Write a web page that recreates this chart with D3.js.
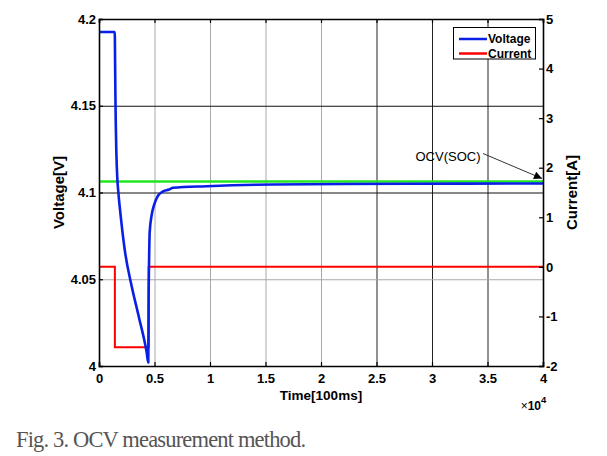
<!DOCTYPE html>
<html>
<head>
<meta charset="utf-8">
<script src="https://cdn.jsdelivr.net/npm/d3@7"></script>
<style>
  html, body { margin: 0; padding: 0; background: #fff; }
  svg { display: block; }
  text { font-family: "Liberation Sans", Arial, sans-serif; }
</style>
</head>
<body>
<svg id="chart" width="607" height="456"></svg>
<script>
// ---------- data ----------
const timeV = [0, 1420, 1450, 1480, 1510, 1560, 1650, 1740, 1980, 2340, 2910, 3600, 4290, 4440,
               4470, 4505, 4565, 4745, 4955, 5255, 5706, 6306, 6667, 9700, 15676, 27748, 40000];
const voltage = [4.1925, 4.1925, 4.175, 4.155, 4.14, 4.124, 4.108, 4.1004, 4.085, 4.066, 4.047, 4.028, 4.008, 4.002,
                 4.04, 4.058, 4.077, 4.087, 4.0927, 4.0975, 4.1004, 4.1017, 4.1027, 4.1036, 4.1046, 4.105, 4.1052];
const timeI = [0, 1430, 1430, 4480, 4480, 40000];
const current = [0, 0, -1.62, -1.62, 0, 0];
const ocvTime = [0, 40000];
const ocvVoltage = [4.1063, 4.1063];

const xTicks = [0, 5000, 10000, 15000, 20000, 25000, 30000, 35000, 40000];
const xTickLabels = ["0", "0.5", "1", "1.5", "2", "2.5", "3", "3.5", "4"];
const vTicks = [4, 4.05, 4.1, 4.15, 4.2];
const vTickLabels = ["4", "4.05", "4.1", "4.15", "4.2"];
const iTicks = [-2, -1, 0, 1, 2, 3, 4, 5];
const iTickLabels = ["-2", "-1", "0", "1", "2", "3", "4", "5"];
const seriesNames = ["Voltage", "Current"];

// ---------- layout ----------
const L = 99, R = 543, T = 19, B = 366;
const svg = d3.select("#chart");
const x = d3.scaleLinear().domain([0, 40000]).range([L, R]);
const yV = d3.scaleLinear().domain([4, 4.2]).range([B, T]);
const yI = d3.scaleLinear().domain([-2, 5]).range([B, T]);

// ---------- grid ----------
const gridX = svg.append("g").attr("transform", `translate(0,${B})`)
  .call(d3.axisBottom(x).tickValues(xTicks.slice(1, -1)).tickSize(-(B - T)).tickFormat(""));
gridX.select(".domain").remove();
gridX.selectAll("line").attr("stroke", d => d >= 25000 ? "#222" : "#a8a8a8").attr("stroke-width", 1);

const gridY = svg.append("g").attr("transform", `translate(${L},0)`)
  .call(d3.axisLeft(yV).tickValues(vTicks.slice(1, -1)).tickSize(-(R - L)).tickFormat(""));
gridY.select(".domain").remove();
gridY.selectAll("line").attr("stroke", d => d >= 4.09 ? "#111" : "#a8a8a8").attr("stroke-width", 1);

// ---------- lines ----------
const lineV = d3.line().x((d, i) => x(timeV[i])).y(d => yV(d)).curve(d3.curveMonotoneX);
const lineI = d3.line().x((d, i) => x(timeI[i])).y(d => yI(d));
const lineO = d3.line().x((d, i) => x(ocvTime[i])).y(d => yV(d));

svg.append("path").datum(current).attr("d", lineI)
  .attr("fill", "none").attr("stroke", "#ff0000").attr("stroke-width", 2);
svg.append("path").datum(ocvVoltage).attr("d", lineO)
  .attr("fill", "none").attr("stroke", "#22e622").attr("stroke-width", 2.5);
svg.append("path").datum(voltage).attr("d", lineV)
  .attr("fill", "none").attr("stroke", "#0a1fe6").attr("stroke-width", 2.6)
  .attr("stroke-linejoin", "round");

// ---------- axes ----------
const fontTick = "bold 13px 'Liberation Sans', Arial, sans-serif";
const axB = svg.append("g").attr("transform", `translate(0,${B})`)
  .call(d3.axisBottom(x).tickValues(xTicks).tickSize(-4).tickPadding(8)
    .tickFormat((d, i) => xTickLabels[i]));
const axT = svg.append("g").attr("transform", `translate(0,${T})`)
  .call(d3.axisTop(x).tickValues(xTicks).tickSize(-4).tickFormat(""));
const axL = svg.append("g").attr("transform", `translate(${L},0)`)
  .call(d3.axisLeft(yV).tickValues(vTicks).tickSize(-4).tickPadding(3)
    .tickFormat((d, i) => vTickLabels[i]));
const axR = svg.append("g").attr("transform", `translate(${R},0)`)
  .call(d3.axisRight(yI).tickValues(iTicks).tickSize(-4).tickPadding(3)
    .tickFormat((d, i) => iTickLabels[i]));
[axB, axT, axL, axR].forEach(a => {
  a.select(".domain").attr("stroke", "#000").attr("stroke-width", 1.6);
  a.selectAll(".tick line").attr("stroke", "#000").attr("stroke-width", 1.2);
  a.selectAll("text").style("font", fontTick).attr("fill", "#000");
});
axB.selectAll("text").attr("dy", "0.71em");

// axis titles
svg.append("text").attr("x", (L + R) / 2).attr("y", 400).attr("text-anchor", "middle")
  .style("font", "bold 13.5px 'Liberation Sans', Arial, sans-serif").text("Time[100ms]");
svg.append("text").attr("transform", `translate(64,${(T + B) / 2}) rotate(-90)`)
  .attr("text-anchor", "middle")
  .style("font", "bold 15px 'Liberation Sans', Arial, sans-serif").text("Voltage[V]");
svg.append("text").attr("transform", `translate(577,${(T + B) / 2}) rotate(-90)`)
  .attr("text-anchor", "middle")
  .style("font", "bold 15px 'Liberation Sans', Arial, sans-serif").text("Current[A]");

// x10^4 exponent
const ex = svg.append("text").attr("x", 541).attr("y", 410).attr("text-anchor", "end")
  .style("font", "bold 12px 'Liberation Sans', Arial, sans-serif");
ex.append("tspan").style("font-weight", "normal").text("\u00d7");
ex.append("tspan").text("10");
svg.append("text").attr("x", 541).attr("y", 403)
  .style("font", "bold 9.5px 'Liberation Sans', Arial, sans-serif").text("4");

// ---------- legend ----------
const lg = svg.append("g");
lg.append("rect").attr("x", 453.5).attr("y", 27.5).attr("width", 82).attr("height", 31.5)
  .attr("fill", "#fff").attr("stroke", "#000").attr("stroke-width", 1);
const legColors = ["#0a1fe6", "#ff0000"];
seriesNames.forEach((n, i) => {
  const yy = 39 + i * 14.5;
  lg.append("line").attr("x1", 459).attr("x2", 487).attr("y1", yy).attr("y2", yy)
    .attr("stroke", legColors[i]).attr("stroke-width", 2.5);
  lg.append("text").attr("x", 488).attr("y", yy + 4)
    .style("font", "bold 12px 'Liberation Sans', Arial, sans-serif").text(n);
});

// ---------- annotation ----------
const defs = svg.append("defs");
defs.append("marker").attr("id", "arr").attr("viewBox", "0 0 10 10")
  .attr("refX", 10).attr("refY", 5).attr("markerWidth", 10).attr("markerHeight", 8)
  .attr("markerUnits", "userSpaceOnUse").attr("orient", "auto")
  .append("path").attr("d", "M0,0 L10,5 L0,10 Z").attr("fill", "#000");
svg.append("line").attr("x1", 483).attr("y1", 153.5).attr("x2", 542).attr("y2", 178.5)
  .attr("stroke", "#333").attr("stroke-width", 1).attr("marker-end", "url(#arr)");
svg.append("text").attr("x", 448).attr("y", 160.5).attr("text-anchor", "middle")
  .style("font", "13px 'Liberation Sans', Arial, sans-serif").text("OCV(SOC)");

// ---------- caption ----------
svg.append("text").attr("x", 16).attr("y", 447).attr("textLength", 290)
  .attr("lengthAdjust", "spacing").attr("fill", "#555")
  .style("font", "22.5px 'Liberation Serif', 'Times New Roman', serif")
  .text("Fig. 3. OCV measurement method.");
</script>
</body>
</html>
